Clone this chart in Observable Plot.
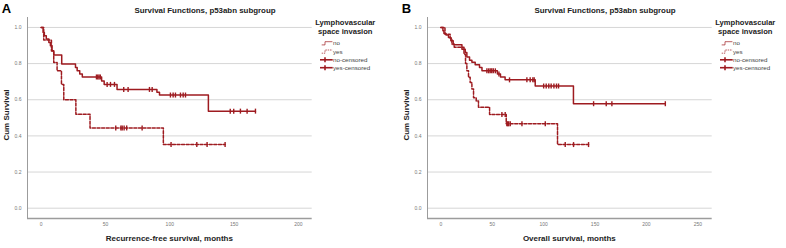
<!DOCTYPE html>
<html>
<head>
<meta charset="utf-8">
<script src="https://cdn.jsdelivr.net/npm/d3@7"></script>
<script src="https://cdn.jsdelivr.net/npm/@observablehq/plot@0.6"></script>
<style>
  html, body { margin: 0; padding: 0; background: #fff; }
  #wrap { position: relative; width: 786px; height: 248px; overflow: hidden; font-family: "Liberation Sans", Arial, sans-serif; }
  .panel { position: absolute; top: 0; width: 393px; height: 248px; }
  .panel > svg { position: absolute; top: 0; left: 0; }
</style>
</head>
<body>
<div id="wrap"></div>
<script>
// ---------- data ----------
const ticksY = [0, 0.2, 0.4, 0.6, 0.8, 1.0];
const domainY = [-0.057, 1.055];

const A_ticksX = [0, 50, 100, 150, 200];
const A_domainX = [-10.6, 210.7];
const B_ticksX = [0, 50, 100, 150, 200, 250];
const B_domainX = [-13, 264];

const panelLetters = ["A", "B"];
const titles = ["Survival Functions, p53abn subgroup", "Survival Functions, p53abn subgroup"];
const xLabels = ["Recurrence-free survival, months", "Overall survival, months"];
const yLabel = "Cum Survival";
const legendTitle = ["Lymphovascular", "space invasion"];
const legendItems = ["no", "yes", "no-censored", "yes-censored"];

// Panel A, LVSI = no (solid)
const A_no_t = [0, 1.5, 2.5, 4, 6, 7.2, 8.5, 9.8, 16, 26.7, 28, 30, 32, 47, 49, 59, 90, 92, 130];
const A_no_s = [1, 0.972, 0.954, 0.936, 0.917, 0.899, 0.871, 0.848, 0.798, 0.779, 0.76, 0.742, 0.726, 0.704, 0.685, 0.657, 0.642, 0.626, 0.537];
const A_no_cens = [43, 44, 45, 46, 51.3, 53.9, 57, 64.2, 67.6, 84.2, 86.3, 100.5, 102.6, 104.4, 108.3, 110.4, 112.2, 147, 149.7, 154.9, 160.1, 166.6];
// Panel A, LVSI = yes (dashed)
const A_yes_t = [0, 2, 8, 9.8, 12.4, 15.8, 17.6, 27, 38, 95];
const A_yes_s = [1, 0.93, 0.87, 0.806, 0.76, 0.685, 0.6, 0.52, 0.444, 0.352];
const A_yes_cens = [58, 62, 63, 64.5, 66.5, 78.5, 101, 121, 129, 143];

// Panel B, LVSI = no (solid)
const B_no_t = [0, 2, 3, 5, 7.4, 9.7, 12, 20.5, 23.7, 25.3, 27.9, 30.2, 33.4, 37.6, 40, 55, 58, 62.5, 91.8, 129];
const B_no_s = [1, 0.982, 0.967, 0.958, 0.945, 0.926, 0.904, 0.88, 0.862, 0.836, 0.818, 0.807, 0.794, 0.778, 0.76, 0.742, 0.726, 0.71, 0.676, 0.578];
const B_no_cens = [44.8, 46.5, 48, 49.5, 51, 53, 56.5, 66.8, 83.7, 86.9, 89.5, 90.8, 100, 102.5, 105, 107.3, 110, 112.5, 114.5, 148.6, 160.9, 166.4, 218.4];
// Panel B, LVSI = yes (dashed)
const B_yes_t = [0, 4, 9, 10.7, 13, 22.5, 24, 25.3, 26.9, 28.5, 30.2, 31.8, 34.4, 36.6, 47.4, 63.6, 113.5];
const B_yes_s = [1, 0.963, 0.94, 0.908, 0.89, 0.852, 0.8, 0.76, 0.724, 0.696, 0.66, 0.611, 0.593, 0.559, 0.519, 0.467, 0.352];
const B_yes_cens = [59.4, 62.6, 64.2, 65, 66, 67.5, 78.9, 101.6, 121, 129.1, 143.7];

// ---------- helpers ----------
const RED = "#9e1b20";
function stepPoints(ts, ss, cens) {
  const pts = ts.map((t, i) => ({t, s: ss[i]}));
  const end = Math.max(ts[ts.length - 1], ...cens);
  pts.push({t: end, s: ss[ss.length - 1]});
  return pts;
}
function survAt(ts, ss, t) {
  let s = ss[0];
  for (let i = 0; i < ts.length; i++) if (ts[i] <= t) s = ss[i];
  return s;
}
function censPoints(ts, ss, cens) {
  return cens.map(t => ({t, s: survAt(ts, ss, t)}));
}
const vbar = { draw(ctx, size) { const h = Math.sqrt(size / Math.PI); ctx.moveTo(0, -h); ctx.lineTo(0, h); } };

const L = 27, R = 311.7, T = 17, B = 218, W = 393, H = 248;

function makePanel(idx, left, domainX, ticksX, noT, noS, noC, yesT, yesS, yesC) {
  const div = document.createElement("div");
  div.className = "panel";
  div.style.left = left + "px";
  document.getElementById("wrap").appendChild(div);

  const chart = Plot.plot({
    width: W, height: H,
    marginLeft: L, marginRight: W - R, marginTop: T, marginBottom: H - B,
    x: {domain: domainX},
    y: {domain: domainY},
    style: {fontFamily: "'Liberation Sans', Arial, sans-serif", background: "transparent", overflow: "visible"},
    marks: [
      Plot.gridY(ticksY, {stroke: "#d6d6d6", strokeOpacity: 1, strokeWidth: 1}),
      Plot.ruleX([domainX[0]], {stroke: "#9c9c9c", strokeWidth: 1}),
      Plot.ruleY([domainY[0]], {stroke: "#9c9c9c", strokeWidth: 1.6}),
      Plot.axisY(ticksY, {tickSize: 0, tickPadding: 6, tickFormat: d3.format(".1f"), fontSize: 5, fill: "#777", label: null}),
      Plot.axisX(ticksX, {tickSize: 0, tickPadding: 3.5, fontSize: 5, fill: "#777", label: null}),
      Plot.line(stepPoints(noT, noS, noC), {x: "t", y: "s", curve: "step-after", stroke: RED, strokeWidth: 1.5}),
      Plot.line(stepPoints(yesT, yesS, yesC), {x: "t", y: "s", curve: "step-after", stroke: RED, strokeWidth: 1.5, strokeDasharray: "3,1.6"}),
      Plot.dot(censPoints(noT, noS, noC), {x: "t", y: "s", symbol: vbar, r: 2.5, stroke: RED, strokeWidth: 1.4, fill: "none"}),
      Plot.dot(censPoints(yesT, yesS, yesC), {x: "t", y: "s", symbol: vbar, r: 2.5, stroke: RED, strokeWidth: 1.4, fill: "none"})
    ]
  });
  div.appendChild(chart);

  // overlay texts and legend
  const svg = d3.select(div).append("svg")
    .attr("width", W).attr("height", H)
    .style("position", "absolute").style("left", 0).style("top", 0)
    .attr("font-family", "'Liberation Sans', Arial, sans-serif");

  svg.append("text").attr("x", 1.7).attr("y", 13.3).attr("font-size", 13).attr("font-weight", "bold").attr("fill", "#000").text(panelLetters[idx]);
  svg.append("text").attr("x", 205).attr("y", 12.7).attr("text-anchor", "middle").attr("font-size", 7.9).attr("font-weight", "bold").attr("fill", "#222").text(titles[idx]);
  svg.append("text").attr("transform", "translate(8.5,115) rotate(-90)").attr("text-anchor", "middle").attr("font-size", 8).attr("font-weight", "bold").attr("fill", "#222").text(yLabel);
  svg.append("text").attr("x", (L + R) / 2).attr("y", 240.5).attr("text-anchor", "middle").attr("font-size", 8).attr("font-weight", "bold").attr("fill", "#222").text(xLabels[idx]);

  const lx = 345.3;
  svg.append("text").attr("x", lx).attr("y", 25.4).attr("text-anchor", "middle").attr("font-size", 7.6).attr("font-weight", "bold").attr("fill", "#222").text(legendTitle[0]);
  svg.append("text").attr("x", lx).attr("y", 33.6).attr("text-anchor", "middle").attr("font-size", 7.6).attr("font-weight", "bold").attr("fill", "#222").text(legendTitle[1]);

  const ys = [43.3, 51.6, 59.8, 67.7];
  legendItems.forEach((lab, i) => {
    const cy = ys[i];
    if (i < 2) {
      svg.append("path").attr("d", `M321.7,${cy + 1.6}H325V${cy - 1.6}H332.4`).attr("fill", "none").attr("stroke", RED).attr("stroke-width", 0.7).attr("stroke-dasharray", i === 1 ? "1.5,0.8" : null);
    } else {
      svg.append("path").attr("d", `M320,${cy}H332.7`).attr("stroke", RED).attr("stroke-width", 1.6);
      svg.append("path").attr("d", `M325,${cy - 2.5}V${cy + 2.5}`).attr("stroke", RED).attr("stroke-width", 1.6);
    }
    svg.append("text").attr("x", 333).attr("y", cy + 2.1).attr("font-size", 6.2).attr("fill", "#444").text(lab);
  });
}

makePanel(0, 0, A_domainX, A_ticksX, A_no_t, A_no_s, A_no_cens, A_yes_t, A_yes_s, A_yes_cens);
makePanel(1, 400, B_domainX, B_ticksX, B_no_t, B_no_s, B_no_cens, B_yes_t, B_yes_s, B_yes_cens);
</script>
</body>
</html>
